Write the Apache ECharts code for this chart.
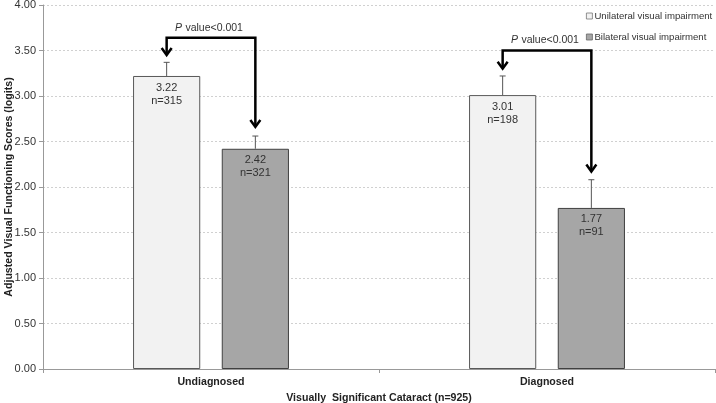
<!DOCTYPE html>
<html lang="en">
<head>
<meta charset="utf-8" />
<title>Visual functioning scores</title>
<script src="https://cdn.jsdelivr.net/npm/echarts@6/dist/echarts.min.js"></script>
<style>
  html, body { margin: 0; padding: 0; background: #fff; }
  #chart { width: 716px; height: 403px; }
</style>
</head>
<body>
<div id="chart"></div>
<script>
// data
var categories = ['Undiagnosed', 'Diagnosed'];
var unilateral = [3.22, 3.01];
var unilateralN = [315, 198];
var unilateralErr = [0.15, 0.21];
var bilateral = [2.42, 1.77];
var bilateralN = [321, 91];
var bilateralErr = [0.14, 0.31];
// significance brackets: bracket height, left arrow tip, right arrow tip
var bracketTop = [3.64, 3.50];
var leftTip = [3.45, 3.30];
var rightTip = [2.66, 2.17];
var pLabel = 'P value<0.001';

var BAR_W = 0.2;   // share of the band
var BAR_GAP = 0.32; // share of the bar width
var FONT = '"Liberation Sans", Arial, sans-serif';

// x centre of bar s in the category at point pt
function barX(api, pt, s) {
  var band = api.size([1, 0])[0];
  var bw = band * BAR_W;
  var gap = bw * BAR_GAP;
  var total = 2 * bw + gap;
  return pt[0] - total / 2 + bw / 2 + s * (bw + gap);
}

function chevron(x, y) {
  return {
    type: 'polyline',
    shape: { points: [[x - 5, y - 7], [x, y], [x + 5, y - 7]] },
    style: { stroke: '#000', lineWidth: 2.5, fill: null, lineJoin: 'miter' }
  };
}

var chart = echarts.init(document.getElementById('chart'));

function barLabel(nList) {
  return {
    show: true,
    position: 'insideTop',
    distance: 5,
    fontFamily: FONT,
    fontSize: 11,
    lineHeight: 13,
    color: '#333',
    formatter: function (p) {
      return p.value.toFixed(2) + '\nn=' + nList[p.dataIndex];
    }
  };
}

var errData = [];
for (var i = 0; i < categories.length; i++) {
  errData.push([i, unilateral[i], unilateralErr[i], 0]);
  errData.push([i, bilateral[i], bilateralErr[i], 1]);
}
var arrowData = categories.map(function (c, i) {
  return [i, bracketTop[i], leftTip[i], rightTip[i]];
});

chart.setOption({
  animation: false,
  textStyle: { fontFamily: FONT },
  grid: { left: 43, right: 1, top: 5, bottom: 34, containLabel: false, outerBoundsMode: 'none' },
  legend: {
    data: [
      { name: 'Unilateral visual impairment', itemStyle: { borderWidth: 0.8, borderColor: '#777' } },
      { name: 'Bilateral visual impairment', itemStyle: { borderWidth: 0.8, borderColor: '#666' } }
    ],
    orient: 'vertical',
    left: 581,
    top: 6,
    itemWidth: 6,
    itemHeight: 6,
    itemGap: 11,
    icon: 'rect',
    textStyle: { fontSize: 9.6, color: '#333', padding: [0, 0, 0, -3] }
  },
  xAxis: {
    type: 'category',
    data: categories,
    name: 'Visually  Significant Cataract (n=925)',
    nameLocation: 'middle',
    nameGap: 23,
    nameTextStyle: { fontWeight: 'bold', fontSize: 10.6, color: '#222' },
    axisLine: { lineStyle: { color: '#999' } },
    axisTick: { show: true, length: 4, lineStyle: { color: '#999' } },
    axisLabel: { fontWeight: 'bold', fontSize: 10.6, color: '#222', margin: 8 }
  },
  yAxis: {
    type: 'value',
    min: 0,
    max: 4,
    interval: 0.5,
    name: 'Adjusted Visual Functioning Scores (logits)',
    nameLocation: 'middle',
    nameGap: 28,
    nameMoveOverlap: false,
    nameTextStyle: { fontWeight: 'bold', fontSize: 10.6, color: '#222' },
    axisLine: { show: true, lineStyle: { color: '#999' } },
    axisTick: { show: true, length: 4, lineStyle: { color: '#999' } },
    axisLabel: {
      fontSize: 11, color: '#333', margin: 7,
      formatter: function (v) { return v.toFixed(2); }
    },
    splitLine: { lineStyle: { color: '#d0d0d0', type: [2, 2] } }
  },
  series: [
    {
      name: 'Unilateral visual impairment',
      type: 'bar',
      data: unilateral,
      barWidth: (BAR_W * 100) + '%',
      barGap: (BAR_GAP * 100) + '%',
      itemStyle: { color: '#f2f2f2', borderColor: '#595959', borderWidth: 1 },
      label: barLabel(unilateralN)
    },
    {
      name: 'Bilateral visual impairment',
      type: 'bar',
      data: bilateral,
      barWidth: (BAR_W * 100) + '%',
      barGap: (BAR_GAP * 100) + '%',
      itemStyle: { color: '#a6a6a6', borderColor: '#404040', borderWidth: 1 },
      label: barLabel(bilateralN)
    },
    {
      // plus-only error bars
      type: 'custom',
      data: errData,
      encode: { x: 0, y: 1 },
      z: 3,
      renderItem: function (params, api) {
        var top = api.coord([api.value(0), api.value(1)]);
        var hi = api.coord([api.value(0), api.value(1) + api.value(2)]);
        var x = barX(api, top, api.value(3));
        var st = { stroke: '#555', lineWidth: 1 };
        return {
          type: 'group',
          children: [
            { type: 'line', shape: { x1: x, y1: top[1], x2: x, y2: hi[1] }, style: st },
            { type: 'line', shape: { x1: x - 3, y1: hi[1], x2: x + 3, y2: hi[1] }, style: st }
          ]
        };
      }
    },
    {
      // significance brackets with arrows
      type: 'custom',
      data: arrowData,
      encode: { x: 0, y: 1 },
      z: 4,
      clip: false,
      renderItem: function (params, api) {
        var c = api.value(0);
        var b = api.coord([c, api.value(1)]);
        var l = api.coord([c, api.value(2)]);
        var r = api.coord([c, api.value(3)]);
        var xl = barX(api, b, 0);
        var xr = barX(api, b, 1);
        return {
          type: 'group',
          children: [
            {
              type: 'polyline',
              shape: { points: [[xl, l[1] - 1], [xl, b[1]], [xr, b[1]], [xr, r[1] - 1]] },
              style: { stroke: '#000', lineWidth: 2.5, fill: null, lineJoin: 'miter' }
            },
            chevron(xl, l[1]),
            chevron(xr, r[1]),
            {
              type: 'text',
              x: (xl + xr) / 2 - 2,
              y: b[1] - 10,
              style: {
                text: '{i|P} {n|' + pLabel.slice(2) + '}',
                rich: {
                  i: { fontStyle: 'italic', fontSize: 10.5, fontFamily: FONT, fill: '#333' },
                  n: { fontSize: 10.5, fontFamily: FONT, fill: '#333' }
                },
                align: 'center',
                verticalAlign: 'middle'
              }
            }
          ]
        };
      }
    }
  ]
});
</script>
</body>
</html>
